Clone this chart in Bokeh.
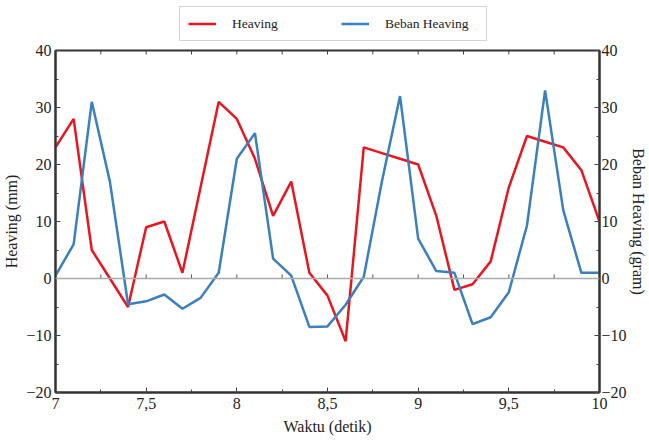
import numpy as np
from bokeh.plotting import figure
from bokeh.layouts import column
from bokeh.models import (Range1d, LinearAxis, Legend, LegendItem, Span,
                          FixedTicker, ColumnDataSource)
from bokeh.embed import file_html
from bokeh.resources import INLINE

waktu = [round(7 + 0.1 * i, 1) for i in range(31)]
heaving = [23, 28, 5, 0, -5, 9, 10, 1, 16, 31, 28, 21, 11, 17, 1, -3, -11,
           23, 22, 21, 20, 11, -2, -1, 3, 16, 25, 24, 23, 19, 10]
beban = [0.5, 6, 31, 17, -4.5, -4, -2.8, -5.3, -3.4, 1, 21, 25.5, 3.5, 0.5,
         -8.5, -8.4, -4.6, 0.3, 17, 32, 7, 1.3, 1, -8, -6.8, -2.4, 9.3, 33,
         12, 1, 1]
x_major = [7, 7.5, 8, 8.5, 9, 9.5, 10]
x_labels = {7: "7", 7.5: "7,5", 8: "8", 8.5: "8,5", 9: "9", 9.5: "9,5", 10: "10"}
y_major = [-20, -10, 0, 10, 20, 30, 40]
y_labels = {-20: "\u221220", -10: "\u221210", 0: "0", 10: "10", 20: "20", 30: "30", 40: "40"}
series_names = ["Heaving", "Beban Heaving"]

FONT = "Liberation Serif"
TXT = "#222222"
RED = "#e8171f"
BLUE = "#3a7fc0"

# ---------- main chart ----------
fig = figure(width=649, height=399, output_backend="svg", toolbar_location=None,
             x_range=Range1d(7, 10), y_range=Range1d(-20, 40),
             min_border_left=10, min_border_right=10, min_border_top=8,
             min_border_bottom=49)
fig.extra_y_ranges = {"beban": Range1d(-20, 40)}
fig.grid.visible = False
fig.outline_line_color = "#333333"
fig.outline_line_width = 2
fig.background_fill_color = "white"
fig.border_fill_color = "white"


def style_axis(ax, labels, ticks, minor):
    ax.ticker = FixedTicker(ticks=ticks, minor_ticks=minor)
    ax.major_label_overrides = labels
    ax.major_tick_in = 5
    ax.major_tick_out = 0
    ax.minor_tick_in = 3
    ax.minor_tick_out = 0
    ax.major_tick_line_color = "#444444"
    ax.minor_tick_line_color = "#444444"
    ax.axis_line_color = "#333333"
    ax.axis_line_width = 2
    ax.major_label_text_font = FONT
    ax.major_label_text_font_size = "16px"
    ax.major_label_text_color = TXT
    ax.axis_label_text_font = FONT
    ax.axis_label_text_font_size = "16px"
    ax.axis_label_text_font_style = "normal"
    ax.axis_label_text_color = TXT


x_minor = [float(v) for v in np.arange(7, 10.001, 0.25)]
y_minor = list(range(-20, 41, 5))

style_axis(fig.xaxis[0], x_labels, x_major, x_minor)
fig.xaxis[0].axis_label = "Waktu (detik)"
fig.xaxis[0].major_label_standoff = 5
fig.xaxis[0].axis_label_standoff = 6
style_axis(fig.yaxis[0], y_labels, y_major, y_minor)
fig.yaxis[0].axis_label = "Heaving (mm)"
fig.yaxis[0].major_label_standoff = 4
fig.yaxis[0].axis_label_standoff = 3

ry = LinearAxis(y_range_name="beban", axis_label="Beban Heaving (gram)")
style_axis(ry, y_labels, y_major, y_minor)
ry.major_label_standoff = 2
ry.axis_label_standoff = 0
fig.add_layout(ry, "right")

zero = Span(location=0, dimension="width", line_color="#aaaaaa", line_width=1.5)
fig.add_layout(zero)

# small tick marks on the zero line and along the top edge
src = ColumnDataSource(dict(x=x_minor, y0=[0] * len(x_minor),
                            y1=[0.7] * len(x_minor),
                            t0=[40] * len(x_minor), t1=[39.3] * len(x_minor)))
fig.segment(x0="x", y0="y0", x1="x", y1="y1", source=src,
            line_color="#555555", line_width=1)
fig.segment(x0="x", y0="t0", x1="x", y1="t1", source=src,
            line_color="#444444", line_width=1)

fig.line(waktu, heaving, line_color=RED, line_width=2.5)
fig.line(waktu, beban, line_color=BLUE, line_width=2.5, y_range_name="beban")

# ---------- legend strip above the chart ----------
leg = figure(width=649, height=42, output_backend="svg", toolbar_location=None,
             x_range=Range1d(0, 1), y_range=Range1d(0, 1),
             x_axis_location=None, y_axis_location=None,
             min_border=0, outline_line_color=None)
leg.grid.visible = False
k1 = leg.line(x=[5, 6], y=[5, 6], line_color=RED, line_width=2.5)
k2 = leg.line(x=[5, 6], y=[5, 6], line_color=BLUE, line_width=2.5)
legend = Legend(items=[LegendItem(label=series_names[0], renderers=[k1]),
                       LegendItem(label=series_names[1], renderers=[k2])],
                orientation="horizontal", location=(124, 1),
                label_text_font=FONT, label_text_font_size="13.5px",
                label_text_color=TXT, border_line_color="#aaaaaa",
                border_line_width=1.5, glyph_width=28, glyph_height=17,
                label_width=93, spacing=16, padding=8, margin=0,
                label_standoff=16, background_fill_alpha=1)
leg.add_layout(legend)

p = column(leg, fig, spacing=0)

open("out.html", "w").write(file_html(p, INLINE))
